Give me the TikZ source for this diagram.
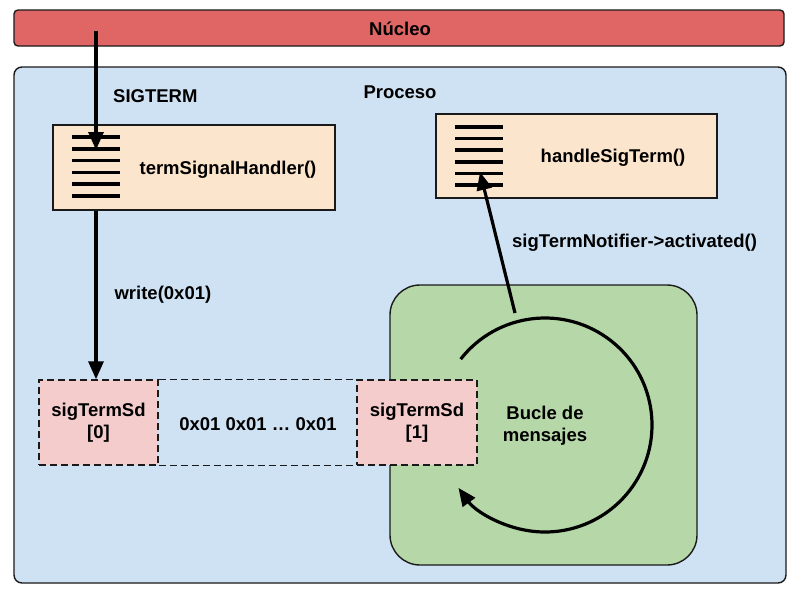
\documentclass[tikz,border=0pt]{standalone}
\usepackage{fontspec}
\setmainfont{Liberation Sans}
\usepackage{xcolor}
\usetikzlibrary{positioning, arrows.meta}

\definecolor{kernelred}{HTML}{E06666}
\definecolor{procblue}{HTML}{CFE2F3}
\definecolor{funcorange}{HTML}{FCE5CD}
\definecolor{sockpink}{HTML}{F4CCCC}
\definecolor{loopgreen}{HTML}{B6D7A8}
\definecolor{edgegray}{HTML}{1A1A1A}

\begin{document}
\begin{tikzpicture}[x=1pt, y=-1pt,
    box/.style={draw=edgegray, line width=1.4pt, inner sep=0pt},
    funcbox/.style={box, fill=funcorange, minimum width=282pt, minimum height=85pt},
    sockbox/.style={box, dash pattern=on 7pt off 4pt, fill=sockpink, minimum width=119pt, minimum height=85pt, align=center, font=\fontsize{18.5}{22}\selectfont\bfseries},
    lbl/.style={inner sep=0pt, font=\fontsize{18.5}{22}\selectfont\bfseries, align=center},
    flow/.style={line width=3.2pt, -{Triangle[length=18pt, width=15pt]}},
    bars/.style={line width=3.6pt}]
    \useasboundingbox (0,0) rectangle (797,597);

    % Main components
    \node[box, rounded corners=4pt, fill=kernelred, minimum width=770pt, minimum height=36pt] (kernel) at (399,28) {};
    \node[lbl] (kerneltext) at (400,29) {Núcleo};

    \node[box, rounded corners=8pt, fill=procblue, minimum width=772pt, minimum height=516pt] (process) at (400,325) {};
    \node[lbl] (processtext) at (400,92) {Proceso};
    \node[lbl, anchor=west] (sigterm) at (113,96) {SIGTERM};

    \node[funcbox] (handler) at (194,167.5) {};
    \node[lbl] (handlertext) at (228,170) {termSignalHandler()};
    \foreach \i in {0,...,5}
        \draw[bars] (72,137+11.8*\i) -- (120,137+11.8*\i);

    \node[funcbox, minimum width=281pt, minimum height=84pt] (slot) at (576.5,156) {};
    \node[lbl] (slottext) at (613,158) {handleSigTerm()};
    \foreach \i in {0,...,5}
        \draw[bars] (455,127+11.6*\i) -- (503,127+11.6*\i);

    \node[box, rounded corners=30pt, fill=loopgreen, minimum width=307pt, minimum height=280pt] (loop) at (543.5,425) {};
    \node[lbl] (looptext) at (545,426) {Bucle de\\mensajes};

    % Socket pair
    \node[sockbox] (sd0) at (98.5,422.5) {sigTermSd\\{}[0]};
    \node[sockbox, minimum width=120pt] (sd1) at (417,422.5) {sigTermSd\\{}[1]};
    \draw[edgegray, line width=1.4pt, dash pattern=on 7pt off 4pt] (sd0.north east) -- (sd1.north west);
    \draw[edgegray, line width=1.4pt, dash pattern=on 7pt off 4pt] (sd0.south east) -- (sd1.south west);
    \node[lbl] (bytes) at (258,424) {0x01 0x01 … 0x01};

    % Connections
    \coordinate (kernelsrc) at (96,31);
    \coordinate (handlerin) at (96,150);
    \coordinate (loopc) at (545,425);
    \coordinate (looptop) at (515,313);
    \coordinate (slotin) at (480,172);

    \draw[flow] (kernelsrc) -- (handlerin);
    \draw[flow] (handler.south -| kernelsrc) -- node[lbl, right=17pt] {write(0x01)} (sd0.north -| kernelsrc);
    \draw[flow] (loopc) ++(142:107pt) arc[start angle=142, end angle=-144, radius=107pt];
    \draw[flow] (looptop) -- (slotin);
    \node[lbl, anchor=west] (notifier) at (512,243) {sigTermNotifier->activated()};

\end{tikzpicture}
\end{document}
